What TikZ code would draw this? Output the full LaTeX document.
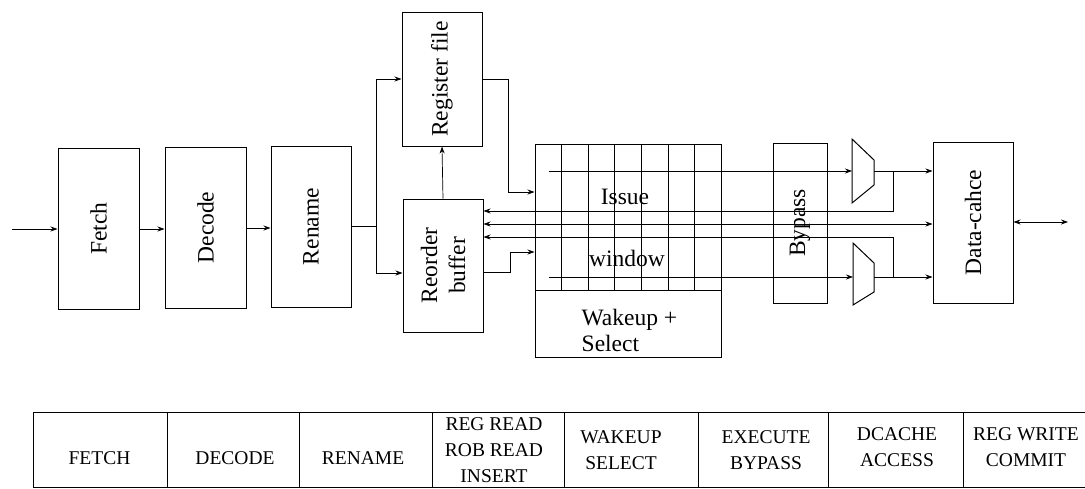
\documentclass[tikz,border=0pt]{standalone}
\usepackage{fontspec}
\setmainfont{Liberation Serif}
\usetikzlibrary{arrows.meta}
\tikzset{
  blk/.style = {draw, line width=1pt, inner sep=0pt},
  lbl/.style = {rotate=90, font=\fontsize{23.5}{28}\selectfont, align=center},
  arr/.style = {-{Stealth[length=7pt, width=5pt]}},
  biarr/.style = {{Stealth[length=7pt, width=5pt]}-{Stealth[length=7pt, width=5pt]}},
  cell/.style = {font=\fontsize{19.5}{26}\selectfont, align=center},
}
\newcommand{\bigtext}{\fontsize{23.5}{26}\selectfont}
\begin{document}
\begin{tikzpicture}[x=1pt, y=-1pt, line width=0.7pt]
\useasboundingbox (0,0) rectangle (1085,488);
% front end
\node[blk, minimum width=81pt, minimum height=161pt, label={[lbl]center:Fetch}] (fetch) at (98.5,228.5) {};
\node[blk, minimum width=81pt, minimum height=161pt, label={[lbl]center:Decode}] (decode) at (205.5,227.5) {};
\node[blk, minimum width=80pt, minimum height=161pt, label={[lbl]center:Rename}] (rename) at (311,226.5) {};
\node[blk, minimum width=80pt, minimum height=134pt, label={[lbl]center:Register file}] (regfile) at (442,79) {};
\node[blk, minimum width=80pt, minimum height=133pt, label={[lbl]center:Reorder\\buffer}] (rob) at (443,265.5) {};
% issue window
\node[blk, minimum width=186pt, minimum height=146pt] (issue) at (628,217) {};
\foreach \i in {1,...,6}
  \draw (535+26.6*\i,144) -- (535+26.6*\i,290);
\node (issuetxt) at (625,197) {\bigtext Issue};
\node (windowtxt) at (627,258) {\bigtext window};
\node[blk, minimum width=186pt, minimum height=67pt] (wakeup) at (628,323.5) {};
\node[anchor=west, align=left, font=\bigtext] (wakeuptxt) at (578,330) {Wakeup +\\Select};
% execute
\node[blk, minimum width=54pt, minimum height=160pt, label={[lbl]center:Bypass}] (bypass) at (800,223) {};
\draw[blk] (852,139) -- (874,160) -- (874,185) -- (852,203) -- cycle;
\draw[blk] (853,243) -- (874,263) -- (874,292) -- (853,305) -- cycle;
\coordinate (mux1in) at (852,171);
\coordinate (mux1out) at (874,171);
\coordinate (mux2in) at (853,277);
\coordinate (mux2out) at (874,277);
\node[blk, minimum width=80pt, minimum height=161pt, label={[lbl]center:Data-cahce}] (dcache) at (973,222.5) {};
% connectors
\coordinate (in) at (12,229);
\coordinate (split) at (376,226);
\draw[arr] (in) -- (in -| fetch.west);
\draw[arr] (fetch.east |- in) -- (decode.west |- in);
\draw[arr] (decode.east |- 0,228) -- (rename.west |- 0,228);
\draw (rename.east |- split) -- (split);
\draw[arr] (split) |- (regfile.west |- 0,79);
\draw[arr] (split) |- (rob.west |- 0,273);
\draw[arr] (rob.north) -- (regfile.south);
\draw[arr] (regfile.east |- 0,79) -- (508,79) -- (508,192) -- (issue.west |- 0,192);
\draw[arr] (rob.east |- 0,272) -- (510,272) -- (510,252) -- (issue.west |- 0,252);
\draw[arr] (549,171) -- (mux1in);
\draw[arr] (549,277) -- (mux2in);
\draw[arr] (mux1out) -- (dcache.west |- mux1out);
\draw[arr] (mux2out) -- (dcache.west |- mux2out);
\draw[arr] (893,171) -- (893,211) -- (rob.east |- 0,211);
\draw[arr] (893,277) -- (893,237) -- (rob.east |- 0,237);
\draw[biarr] (rob.east |- 0,224) -- (dcache.west |- 0,224);
\draw[biarr] (dcache.east |- 0,222) -- (1068,222);
% pipeline stages
\draw[line width=0.8pt] (33,412) -- (1085,412) (33,487) -- (1085,487);
\foreach \x in {33,167,299,432,564,698,828,963}
  \draw[line width=0.8pt] (\x,412) -- (\x,487);
\node[cell] (sFetch) at (99.5,458) {FETCH};
\node[cell] (sDecode) at (235,458) {DECODE};
\node[cell] (sRename) at (363,458) {RENAME};
\node[cell] (sRead) at (494,450) {REG READ\\ROB READ\\INSERT};
\node[cell] (sWakeup) at (621,450) {WAKEUP\\SELECT};
\node[cell] (sExec) at (766,450) {EXECUTE\\BYPASS};
\node[cell] (sDcache) at (897,447) {DCACHE\\ACCESS};
\node[cell] (sWrite) at (1026,447) {REG WRITE\\COMMIT};
\end{tikzpicture}
\end{document}
